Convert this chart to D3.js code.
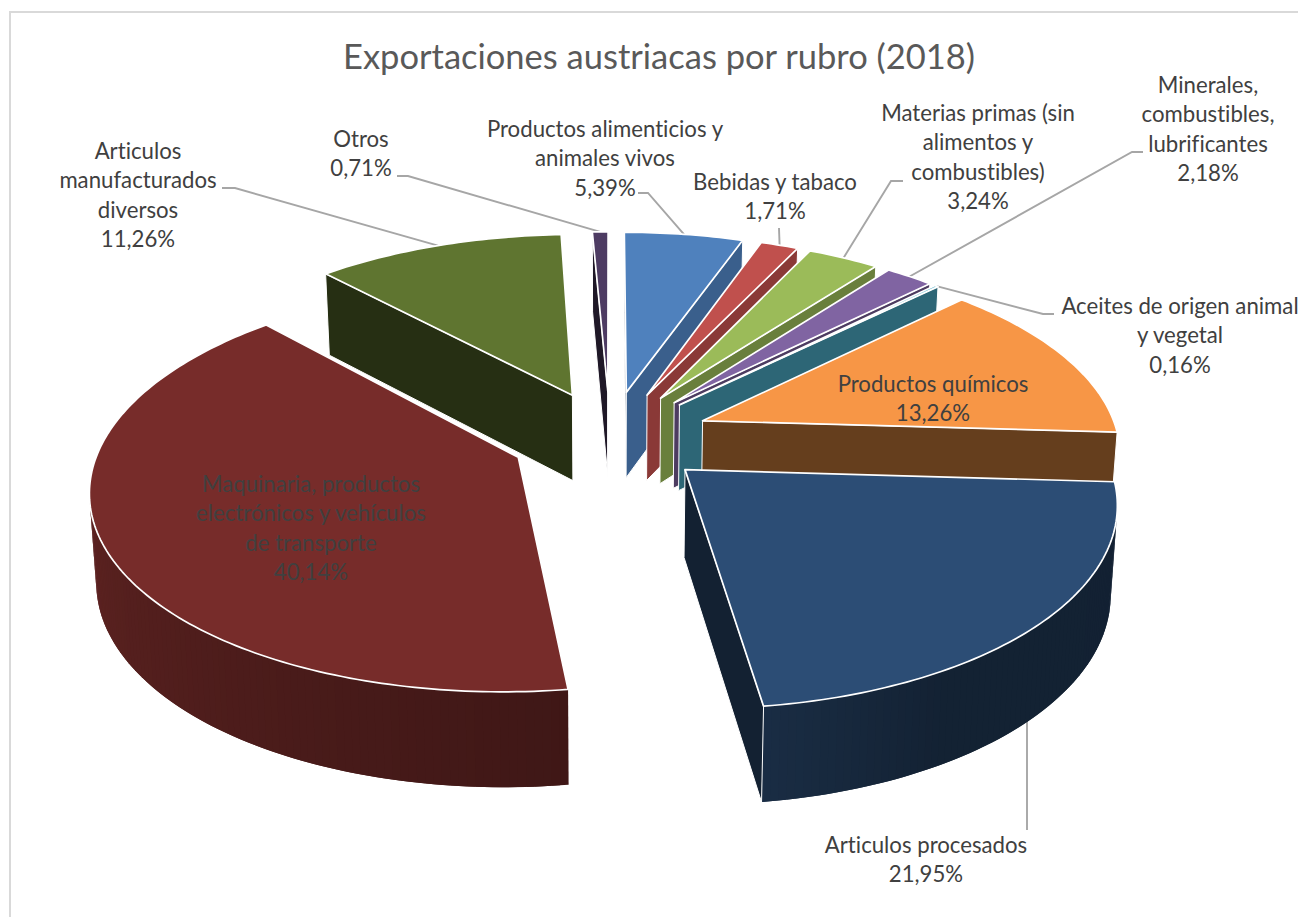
<!DOCTYPE html>
<html>
<head>
<meta charset="utf-8">
<script src="https://cdn.jsdelivr.net/npm/d3@7"></script>
<style>
    html, body { margin: 0; padding: 0; background: white; overflow: hidden; }
    text { font-family: Lato, "Open Sans", sans-serif; font-variant-ligatures: none; }
</style>
</head>
<body>
<div id="wrapper"></div>
<script>
const title = 'Exportaciones austriacas por rubro (2018)'

// values, clockwise from the top of the pie
const categories = [
    ['Productos alimenticios y', 'animales vivos'],
    ['Bebidas y tabaco'],
    ['Materias primas (sin', 'alimentos y', 'combustibles)'],
    ['Minerales,', 'combustibles,', 'lubrificantes'],
    ['Aceites de origen animal', 'y vegetal'],
    ['Productos químicos'],
    ['Articulos procesados'],
    ['Maquinaria, productos', 'electrónicos y vehículos', 'de transporte'],
    ['Articulos', 'manufacturados', 'diversos'],
    ['Otros']
]
const shares = [5.39, 1.71, 3.24, 2.18, 0.16, 13.26, 21.95, 40.14, 11.26, 0.71]
const shareLabels = ['5,39%', '1,71%', '3,24%', '2,18%', '0,16%', '13,26%', '21,95%', '40,14%', '11,26%', '0,71%']
const colors = ['#4f81bd', '#c0504d', '#9bbb59', '#8064a2', '#4bacc6', '#f79646', '#2c4d75', '#772c2a', '#5f7530', '#4d3b62']

// where each label sits: centre x, first baseline, and the bent part of its leader
const labelX = [605, 775, 978, 1208, 1180, 933, 926, 311, 138, 361]
const labelY = [137, 190, 121, 93, 314, 392, 853, 492, 159, 147]
const leaderStart = [
    [[638, 193], [648, 193]],
    [[779, 228]],
    [[903, 181], [891, 181]],
    [[1143, 152], [1132, 152]],
    [[1054, 314], [1043, 314]],
    null,
    [[1027, 830], [1027, 700]],
    null,
    [[222, 188], [235, 188]],
    [[397, 176], [408, 176]]
]

const width = 1298
const height = 917
const lineHeight = 29.3

// pie geometry
const center = { x: 610, y: 437 }
const radius = 416
const explode = 100
const thickness = 89.5
const tilt = 0.468
const perspective = 0.000343
const bottomShrinkX = 0.987
const bottomShrinkY = 0.97

const svg = d3.select('#wrapper')
    .append('svg')
    .attr('width', width)
    .attr('height', height)
    .style('display', 'block')

svg.append('rect')
    .attr('x', 10)
    .attr('y', 12)
    .attr('width', width + 20)
    .attr('height', height + 20)
    .attr('fill', 'white')
    .attr('stroke', '#d9d9d9')
    .attr('stroke-width', 2)

svg.append('text')
    .attr('x', 659)
    .attr('y', 69)
    .attr('text-anchor', 'middle')
    .attr('font-size', '34.5px')
    .attr('fill', '#595959')
    .text(title)

const slices = d3.pie().sort(null).value(d => d)(shares)
    .map((d, i) => {
        let mid = (d.startAngle + d.endAngle) / 2
        return { ...d, i, mid, dx: Math.sin(mid) * explode, dy: -Math.cos(mid) * explode }
    })

// pie plane to screen; z = 0 is the top face, z = 1 the bottom face
function project(slice, angle, r, z) {
    let u = Math.sin(angle) * r + slice.dx
    let v = -Math.cos(angle) * r + slice.dy
    let p = 1 / (1 - perspective * v)
    let px = p * (z ? bottomShrinkX : 1)
    let py = p * (z ? bottomShrinkY : 1)
    return [center.x + u * px, center.y + (v * tilt + z * thickness) * py]
}

const shade = (color, amount) => d3.interpolateRgb('#000', color)(amount)
const deg = a => a * 180 / Math.PI

// how dark the side walls get, by angle around the pie
const rimShade = d3.scaleLinear()
    .domain([90, 150, 172.39, 172.41, 200, 280, 360])
    .range([0.43, 0.44, 0.58, 0.53, 0.6, 0.84, 0.84])
const endWallShade = d3.scaleLinear()
    .domain([19, 37, 46, 93, 172])
    .range([0.74, 0.68, 0.59, 0.41, 0.43])
const startWallShade = 0.4

const line = d3.line()

function isFacing(quad) {
    return d3.polygonArea(quad) > 0
}

function wall(slice, a, ra, b, rb) {
    return [
        project(slice, a, ra, 0),
        project(slice, b, rb, 0),
        project(slice, b, rb, 1),
        project(slice, a, ra, 1)
    ]
}

// leaders go under the pie so they stop at its edge
const leaderGroup = svg.append('g')
const pieGroup = svg.append('g')

// back slices first, the front ones paint over them
slices.slice().sort((a, b) => Math.cos(b.mid) - Math.cos(a.mid)).forEach(slice => {
    let g = pieGroup.append('g')
    let color = colors[slice.i]
    let span = slice.endAngle - slice.startAngle

    // outer wall in thin strips so the shading runs round the rim;
    // each strip runs under the next one to hide the seams
    let steps = Math.max(2, Math.ceil(deg(span)))
    let strips = d3.range(steps).map(k => {
        let a = slice.startAngle + span * k / steps
        let b = slice.startAngle + span * (k + 1) / steps
        let over = Math.min(slice.endAngle, b + span / steps)
        return { quad: wall(slice, a, radius, over, radius), facing: wall(slice, a, radius, b, radius), angle: deg((a + b) / 2) }
    }).filter(d => isFacing(d.facing))

    g.selectAll('path.rim')
        .data(strips)
        .enter()
        .append('path')
        .attr('class', 'rim')
        .attr('d', d => line(d.quad) + 'Z')
        .attr('fill', d => shade(color, rimShade(d.angle)))

    // the two straight walls
    let walls = [
        { quad: wall(slice, slice.startAngle, 0, slice.startAngle, radius), fill: shade(color, startWallShade) },
        { quad: wall(slice, slice.endAngle, radius, slice.endAngle, 0), fill: shade(color, endWallShade(deg(slice.endAngle))) }
    ].filter(d => isFacing(d.quad))

    g.selectAll('path.side')
        .data(walls)
        .enter()
        .append('path')
        .attr('class', 'side')
        .attr('d', d => line(d.quad) + 'Z')
        .attr('fill', d => d.fill)
        .attr('stroke', 'white')
        .attr('stroke-width', 1)

    // top face
    let rim = d3.range(steps + 1).map(k => project(slice, slice.startAngle + span * k / steps, radius, 0))
    g.append('path')
        .attr('d', line([project(slice, 0, 0, 0), ...rim]) + 'Z')
        .attr('fill', color)
        .attr('stroke', 'white')
        .attr('stroke-width', 1.7)
        .attr('stroke-linejoin', 'round')
})

// leader lines end on the middle of each slice's rim
leaderGroup.selectAll('path')
    .data(slices.filter(d => leaderStart[d.i]))
    .enter()
    .append('path')
    .attr('d', d => {
        let points = leaderStart[d.i]
        // the front slice is labelled from below, its leader is already straight
        if (d.i === 6) return line(points)
        return line([...points, project(d, d.mid, radius, 0)])
    })
    .attr('fill', 'none')
    .attr('stroke', '#a6a6a6')
    .attr('stroke-width', 1.9)

const labels = svg.append('g')
    .selectAll('text')
    .data(slices)
    .enter()
    .append('text')
    .attr('text-anchor', 'middle')
    .attr('font-size', '22.2px')
    .attr('fill', '#404040')

labels.selectAll('tspan')
    .data(d => [...categories[d.i], shareLabels[d.i]].map((t, k) => ({ t, k, i: d.i })))
    .enter()
    .append('tspan')
    .attr('x', d => labelX[d.i])
    .attr('y', d => labelY[d.i] + d.k * lineHeight)
    .text(d => d.t)
</script>
</body>
</html>
